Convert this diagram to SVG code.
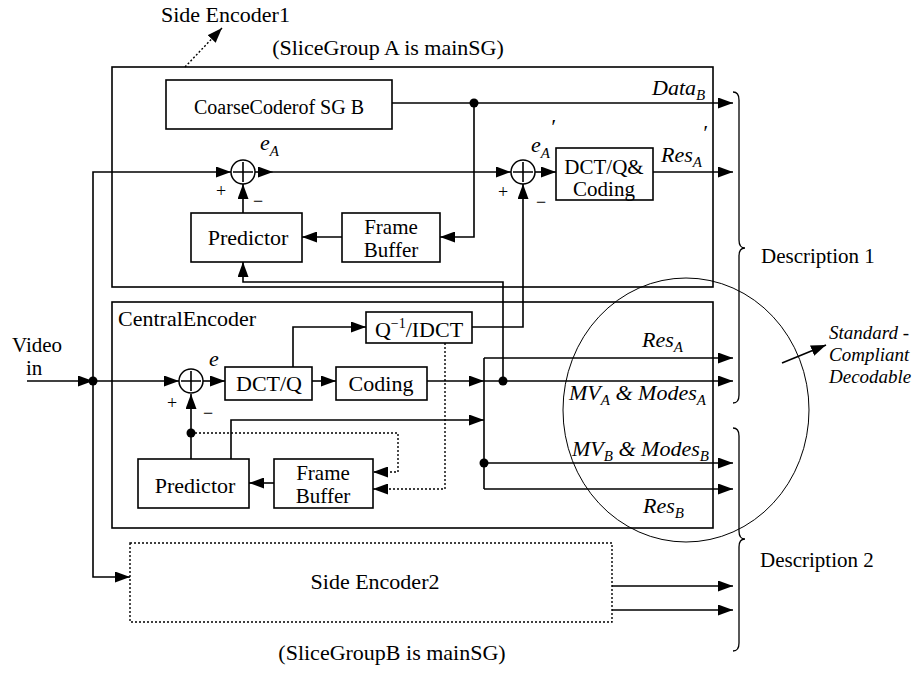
<svg xmlns="http://www.w3.org/2000/svg" width="919" height="680" viewBox="0 0 919 680">
<defs>
<marker id="ah" markerUnits="userSpaceOnUse" markerWidth="15" markerHeight="11" refX="15" refY="5.5" orient="auto">
<path d="M0,0 L15,5.5 L0,11 z" fill="#000"/>
</marker>
<style>
.bx{fill:#fff;stroke:#000;stroke-width:1.6}
.frame{fill:none;stroke:#000;stroke-width:1.6}
.dash{fill:none;stroke:#000;stroke-width:1.4;stroke-dasharray:2,2}
.ln{fill:none;stroke:#000;stroke-width:1.6}
.ar{fill:none;stroke:#000;stroke-width:1.6;marker-end:url(#ah)}
.ard{fill:none;stroke:#000;stroke-width:1.4;stroke-dasharray:2,2;marker-end:url(#ah)}
.dot{fill:#000}
.t{font-family:"Liberation Serif","Times New Roman",serif;font-size:22px;fill:#000}
.t2{font-family:"Liberation Serif","Times New Roman",serif;font-size:21px;fill:#000;text-anchor:middle}
.c{text-anchor:middle}
.i{font-family:"Liberation Serif","Times New Roman",serif;font-size:22px;font-style:italic;fill:#000}
.s{font-family:"Liberation Serif","Times New Roman",serif;font-size:18px;fill:#000}
.add{fill:#fff;stroke:#000;stroke-width:1.5}
</style>
</defs>

<!-- frames -->
<g id="side-encoder-1">
<rect class="frame" x="112" y="67" width="601" height="220"/>
<text class="t" x="161" y="22">Side Encoder1</text>
<text class="t c" x="388" y="55">(SliceGroup A is mainSG)</text>
</g>
<g id="central-encoder">
<rect class="frame" x="112" y="302" width="601" height="226"/>
<text class="t" x="118" y="326">CentralEncoder</text>
</g>
<g id="side-encoder-2">
<rect class="dash" x="130" y="543" width="482" height="79"/>
<text class="t c" x="375" y="589">Side Encoder2</text>
<text class="t c" x="392" y="660">(SliceGroupB is mainSG)</text>
</g>

<!-- connectors -->
<g id="connectors">
<path class="ard" d="M185,67 L222,28"/>
<path class="ar" d="M27,381 L93,381"/>
<path class="ar" d="M93,381 L179,381"/>
<path class="ar" d="M93,381 L93,172 L231,172"/>
<path class="ar" d="M93,381 L93,577 L130,577"/>
<path class="ar" d="M255,172 L273,172"/>
<path class="ar" d="M273,172 L511,172"/>
<path class="ar" d="M535,172 L556,172"/>
<path class="ar" d="M653,172 L733,172"/>
<path class="ar" d="M392,103 L733,103"/>
<path class="ar" d="M474,103 L474,237 L440,237"/>
<path class="ar" d="M342,237 L302,237"/>
<path class="ar" d="M243,213 L243,184"/>
<path class="ar" d="M503,381 L503,282 L243,282 L243,262"/>
<path class="ar" d="M472,327 L523,327 L523,184"/>
<path class="ar" d="M203,381 L225,381"/>
<path class="ar" d="M312,381 L336,381"/>
<path class="ar" d="M427,381 L484,381"/>
<path class="ar" d="M293,367 L293,327 L366,327"/>
<path class="ln" d="M484,358 L484,489"/>
<path class="ar" d="M484,358 L733,358"/>
<path class="ar" d="M484,381 L733,381"/>
<path class="ar" d="M484,463 L733,463"/>
<path class="ar" d="M484,489 L733,489"/>
<path class="ar" d="M231,459 L231,420 L484,420"/>
<path class="ar" d="M191,459 L191,394"/>
<path class="ar" d="M274,483 L249,483"/>
<path class="ard" d="M191,433 L398,433 L398,472 L373,472"/>
<path class="ard" d="M445,343 L445,489 L373,489"/>
<path class="ar" d="M612,586 L733,586"/>
<path class="ar" d="M612,610 L733,610"/>
<path class="ar" d="M782,363 L826,345"/>
<circle class="dot" cx="93" cy="381" r="4.5"/>
<circle class="dot" cx="474" cy="103" r="4.5"/>
<circle class="dot" cx="503" cy="381" r="4.5"/>
<circle class="dot" cx="484" cy="463" r="4.5"/>
<circle class="dot" cx="191" cy="433" r="4.5"/>
</g>

<!-- side encoder 1 blocks -->
<g id="coarse-coder">
<rect class="bx" x="166" y="80" width="226" height="49"/>
<text class="t c" x="279" y="114" style="font-size:20px">CoarseCoderof SG B</text>
</g>
<g id="adder-1">
<circle class="add" cx="243" cy="172" r="12"/>
<path class="ln" d="M243,162 V182 M233,172 H253"/>
<text class="s" x="216" y="197">+</text>
<text class="s" x="253" y="207">−</text>
<text class="i" x="260" y="150">e<tspan dy="6" font-size="15">A</tspan></text>
</g>
<g id="predictor-1">
<rect class="bx" x="191" y="213" width="111" height="49"/>
<text class="t c" x="248" y="245">Predictor</text>
</g>
<g id="frame-buffer-1">
<rect class="bx" x="342" y="213" width="98" height="49"/>
<text class="t2" x="391" y="234">Frame</text>
<text class="t2" x="391" y="257">Buffer</text>
</g>
<g id="adder-2">
<circle class="add" cx="523" cy="172" r="12"/>
<path class="ln" d="M523,162 V182 M513,172 H533"/>
<text class="s" x="498" y="198">+</text>
<text class="s" x="536" y="208">−</text>
<text class="i" x="531" y="152">e<tspan dy="6" font-size="15">A</tspan></text>
<text class="i" x="550" y="134">′</text>
</g>
<g id="dct-q-coding">
<rect class="bx" x="556" y="148" width="97" height="52"/>
<text class="t2" x="604" y="174">DCT/Q&amp;</text>
<text class="t2" x="604" y="196">Coding</text>
</g>

<!-- central encoder blocks -->
<g id="adder-c">
<circle class="add" cx="191" cy="381" r="12"/>
<path class="ln" d="M191,371 V391 M181,381 H201"/>
<text class="s" x="167" y="409">+</text>
<text class="s" x="203" y="419">−</text>
<text class="i" x="209" y="366">e</text>
</g>
<g id="dct-q">
<rect class="bx" x="225" y="367" width="87" height="33"/>
<text class="t c" x="269" y="391">DCT/Q</text>
</g>
<g id="coding">
<rect class="bx" x="336" y="367" width="91" height="33"/>
<text class="t c" x="381" y="391">Coding</text>
</g>
<g id="idct">
<rect class="bx" x="366" y="312" width="106" height="31"/>
<text class="t c" x="419" y="337">Q<tspan dy="-9" font-size="14">−1</tspan><tspan dy="9">/IDCT</tspan></text>
</g>
<g id="predictor-c">
<rect class="bx" x="138" y="459" width="111" height="49"/>
<text class="t c" x="195" y="493">Predictor</text>
</g>
<g id="frame-buffer-c">
<rect class="bx" x="274" y="459" width="99" height="49"/>
<text class="t2" x="323" y="480">Frame</text>
<text class="t2" x="323" y="503">Buffer</text>
</g>

<!-- labels -->
<g id="labels">
<text class="t" x="12" y="352" style="font-size:21px">Video</text>
<text class="t" x="26" y="375" style="font-size:21px">in</text>
<text class="i" x="652" y="95">Data<tspan dy="5" font-size="15">B</tspan></text>
<text class="i" x="661" y="162">Res<tspan dy="5" font-size="15">A</tspan></text>
<text class="i" x="702" y="140">′</text>
<text class="i" x="642" y="347">Res<tspan dy="5" font-size="15">A</tspan></text>
<text class="i" x="569" y="400">MV<tspan dy="5" font-size="15">A</tspan><tspan dy="-5"> &amp; Modes</tspan><tspan dy="5" font-size="15">A</tspan></text>
<text class="i" x="572" y="456">MV<tspan dy="5" font-size="15">B</tspan><tspan dy="-5"> &amp; Modes</tspan><tspan dy="5" font-size="15">B</tspan></text>
<text class="i" x="643" y="513">Res<tspan dy="5" font-size="15">B</tspan></text>
</g>

<g id="compliant-region">
<ellipse cx="686" cy="410" rx="123" ry="132" fill="none" stroke="#000" stroke-width="1"/>
<text class="i" x="829" y="339" style="font-size:19px">Standard -</text>
<text class="i" x="829" y="361" style="font-size:19px">Compliant</text>
<text class="i" x="829" y="383" style="font-size:19px">Decodable</text>
</g>

<g id="description-1">
<path class="ln" style="stroke-width:1.3" d="M733,92 Q739,92 739,100 L739,240 Q739,248 745,248 Q739,248 739,256 L739,395 Q739,403 733,403"/>
<text class="t" x="761" y="263" style="font-size:21px">Description 1</text>
</g>
<g id="description-2">
<path class="ln" style="stroke-width:1.3" d="M733,428 Q739,428 739,436 L739,531 Q739,539 745,539 Q739,539 739,547 L739,643 Q739,651 733,651"/>
<text class="t" x="760" y="567" style="font-size:21px">Description 2</text>
</g>
</svg>
